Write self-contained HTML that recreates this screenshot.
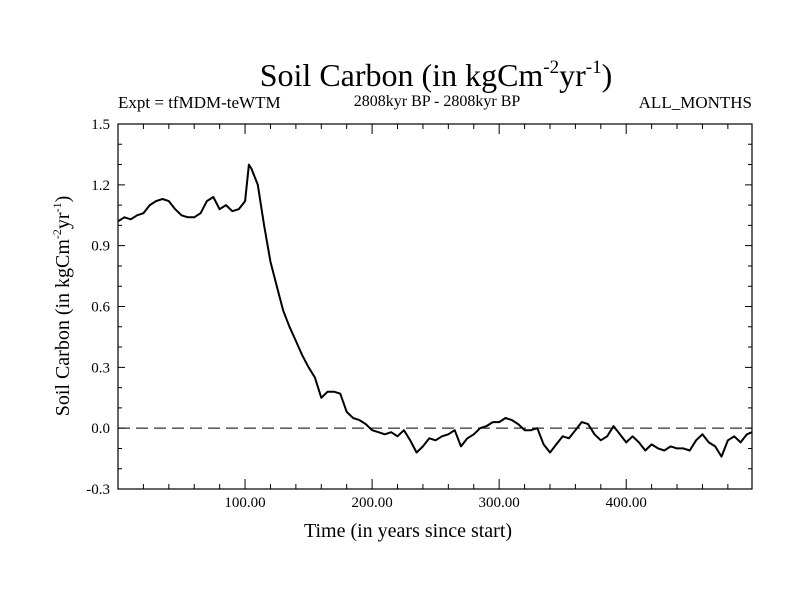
<!DOCTYPE html>
<html><head><meta charset="utf-8"><style>
html,body{margin:0;padding:0;background:#fff;}
svg{display:block;font-family:"Liberation Serif",serif;}
</style></head><body>
<svg id="chart" width="800" height="600">
<text x="436" y="86" font-size="32" text-anchor="middle">Soil Carbon (in kgCm<tspan font-size="19" dy="-13">-2</tspan><tspan dy="13">yr</tspan><tspan font-size="19" dy="-13">-1</tspan><tspan dy="13">)</tspan></text>
<text x="118" y="108" font-size="17">Expt = tfMDM-teWTM</text>
<text x="437" y="106" font-size="16" text-anchor="middle">2808kyr BP - 2808kyr BP</text>
<text x="752" y="108" font-size="17" text-anchor="end">ALL_MONTHS</text>
<text x="408" y="537" font-size="20" text-anchor="middle">Time (in years since start)</text>
<text transform="translate(69,306) rotate(-90)" font-size="20" text-anchor="middle">Soil Carbon (in kgCm<tspan font-size="12" dy="-8">-2</tspan><tspan dy="8">yr</tspan><tspan font-size="12" dy="-8">-1</tspan><tspan dy="8">)</tspan></text>
<g id="axes"></g>
<g id="marks"></g>
</svg>
<script>
const years=[0,5,10,15,20,25,30,35,40,45,50,55,60,65,70,75,80,85,90,95,100,103,105,110,115,120,125,130,135,140,145,150,155,160,165,170,175,180,185,190,195,200,205,210,215,220,225,230,235,240,245,250,255,260,265,270,275,280,285,290,295,300,305,310,315,320,325,330,335,340,345,350,355,360,365,370,375,380,385,390,395,400,405,410,415,420,425,430,435,440,445,450,455,460,465,470,475,480,485,490,495,499];
const values=[1.02,1.04,1.03,1.05,1.06,1.10,1.12,1.13,1.12,1.08,1.05,1.04,1.04,1.06,1.12,1.14,1.08,1.10,1.07,1.08,1.12,1.30,1.28,1.20,1.00,0.82,0.70,0.58,0.50,0.43,0.36,0.30,0.25,0.15,0.18,0.18,0.17,0.08,0.05,0.04,0.02,-0.01,-0.02,-0.03,-0.02,-0.04,-0.01,-0.06,-0.12,-0.09,-0.05,-0.06,-0.04,-0.03,-0.01,-0.09,-0.05,-0.03,0.0,0.01,0.03,0.03,0.05,0.04,0.02,-0.01,-0.01,0.0,-0.08,-0.12,-0.08,-0.04,-0.05,-0.01,0.03,0.02,-0.03,-0.06,-0.04,0.01,-0.03,-0.07,-0.04,-0.07,-0.11,-0.08,-0.10,-0.11,-0.09,-0.10,-0.10,-0.11,-0.06,-0.03,-0.07,-0.09,-0.14,-0.06,-0.04,-0.07,-0.03,-0.02];
const yTicks=[-0.3,0.0,0.3,0.6,0.9,1.2,1.5];
const yTickLabels=["-0.3","0.0","0.3","0.6","0.9","1.2","1.5"];
const xTicks=[100,200,300,400];
const xTickLabels=["100.00","200.00","300.00","400.00"];
const L=118,R=752,T=124,B=489,X0=0,X1=499,Y0=-0.3,Y1=1.5;
const sx=v=>L+(v-X0)/(X1-X0)*(R-L);
const sy=v=>B-(v-Y0)/(Y1-Y0)*(B-T);
const NS="http://www.w3.org/2000/svg";
const axes=document.getElementById('axes'),marks=document.getElementById('marks');
function mk(tag,attrs,parent){const e=document.createElementNS(NS,tag);for(const k in attrs)e.setAttribute(k,attrs[k]);parent.appendChild(e);return e;}
const frame=mk('rect',{x:L,y:T,width:R-L,height:B-T,fill:'none',stroke:'#000','stroke-width':1.2},axes);


let d='';
for(let v=-0.3;v<=1.5001;v+=0.1){const y=sy(v);const major=Math.abs(Math.round(v*10)%3)===0;const len=major?7:4;d+=`M${L},${y}h${len}M${R},${y}h${-len}`;}
for(let v=20;v<X1;v+=20){const x=sx(v);const len=v%100===0?10:5;d+=`M${x},${B}v${-len}M${x},${T}v${len}`;}
const tk=mk('path',{d:d,stroke:'#000','stroke-width':1},axes);


yTicks.forEach((v,i)=>{const t=mk('text',{x:L-8,y:sy(v)+5,'font-size':15,'text-anchor':'end'},axes);t.textContent=yTickLabels[i];

});
xTicks.forEach((v,i)=>{const t=mk('text',{x:sx(v),y:B+18,'font-size':15,'text-anchor':'middle'},axes);t.textContent=xTickLabels[i];

});
const zl=mk('line',{x1:L,x2:R,y1:sy(0),y2:sy(0),stroke:'#000','stroke-width':1,'stroke-dasharray':'12,6'},marks);


const pts=years.map((x,i)=>sx(x).toFixed(1)+','+sy(values[i]).toFixed(1)).join(' ');
const pl=mk('polyline',{points:pts,fill:'none',stroke:'#000','stroke-width':2,'stroke-linejoin':'round'},marks);


</script>
</body></html>
